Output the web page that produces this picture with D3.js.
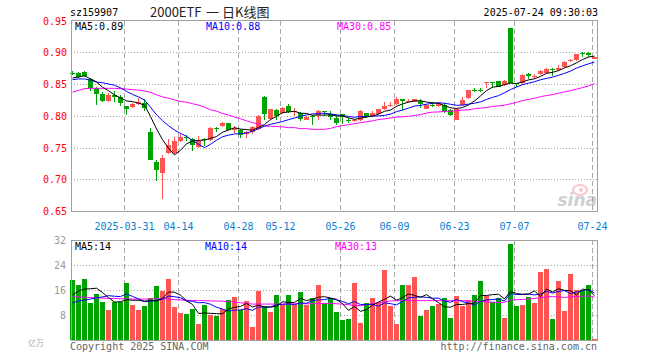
<!DOCTYPE html>
<html>
<head>
<meta charset="utf-8">
<script src="https://cdn.jsdelivr.net/npm/d3@7"></script>
<style>
body { margin: 0; background: #fff; }
svg { display: block; }
text { font-family: "DejaVu Sans Mono", monospace; font-size: 10px; }
text.title { font-family: "Noto Sans CJK SC", sans-serif; font-size: 13px; }
</style>
</head>
<body>
<svg id="chart" width="660" height="360"></svg>
<script>
var dates = [
    '2025-03-18', '2025-03-19', '2025-03-20', '2025-03-21', '2025-03-24', '2025-03-25', '2025-03-26', '2025-03-27', '2025-03-28', '2025-03-31',
    '2025-04-01', '2025-04-02', '2025-04-03', '2025-04-07', '2025-04-08', '2025-04-09', '2025-04-10', '2025-04-11', '2025-04-14', '2025-04-15',
    '2025-04-16', '2025-04-17', '2025-04-18', '2025-04-21', '2025-04-22', '2025-04-23', '2025-04-24', '2025-04-25', '2025-04-28', '2025-04-29',
    '2025-04-30', '2025-05-06', '2025-05-07', '2025-05-08', '2025-05-09', '2025-05-12', '2025-05-13', '2025-05-14', '2025-05-15', '2025-05-16',
    '2025-05-19', '2025-05-20', '2025-05-21', '2025-05-22', '2025-05-23', '2025-05-26', '2025-05-27', '2025-05-28', '2025-05-29', '2025-05-30',
    '2025-06-03', '2025-06-04', '2025-06-05', '2025-06-06', '2025-06-09', '2025-06-10', '2025-06-11', '2025-06-12', '2025-06-13', '2025-06-16',
    '2025-06-17', '2025-06-18', '2025-06-19', '2025-06-20', '2025-06-23', '2025-06-24', '2025-06-25', '2025-06-26', '2025-06-27', '2025-06-30',
    '2025-07-01', '2025-07-02', '2025-07-03', '2025-07-04', '2025-07-07', '2025-07-08', '2025-07-09', '2025-07-10', '2025-07-11', '2025-07-14',
    '2025-07-15', '2025-07-16', '2025-07-17', '2025-07-18', '2025-07-21', '2025-07-22', '2025-07-23', '2025-07-24'
]

var opens = [
    0.867, 0.867, 0.869, 0.858, 0.843, 0.835, 0.824, 0.832, 0.830, 0.815,
    0.813, 0.818, 0.820, 0.774, 0.727, 0.710, 0.741, 0.741, 0.760, 0.767,
    0.764, 0.751, 0.764, 0.762, 0.780, 0.784, 0.788, 0.778, 0.777, 0.772,
    0.774, 0.779, 0.829, 0.795, 0.809, 0.804, 0.815, 0.806, 0.805, 0.794,
    0.800, 0.801, 0.807, 0.802, 0.796, 0.802, 0.794, 0.791, 0.793, 0.804,
    0.800, 0.802, 0.810, 0.816, 0.818, 0.826, 0.822, 0.822, 0.824, 0.811,
    0.8175, 0.815, 0.817, 0.809, 0.794, 0.817, 0.828, 0.8405, 0.8405, 0.852,
    0.853, 0.854, 0.848, 0.938, 0.851, 0.851, 0.866, 0.8625, 0.865, 0.867,
    0.874, 0.872, 0.877, 0.887, 0.8875, 0.899, 0.899, 0.890
]
var highs = [
    0.870, 0.869, 0.870, 0.860, 0.846, 0.838, 0.836, 0.839, 0.833, 0.816,
    0.820, 0.828, 0.826, 0.780, 0.730, 0.738, 0.763, 0.767, 0.772, 0.770,
    0.765, 0.768, 0.765, 0.782, 0.782, 0.790, 0.789, 0.784, 0.779, 0.776,
    0.784, 0.801, 0.831, 0.811, 0.810, 0.813, 0.818, 0.812, 0.806, 0.799,
    0.801, 0.809, 0.807, 0.808, 0.801, 0.803, 0.797, 0.795, 0.809, 0.805,
    0.808, 0.811, 0.821, 0.821, 0.829, 0.827, 0.826, 0.827, 0.826, 0.819,
    0.822, 0.820, 0.820, 0.810, 0.812, 0.829, 0.841, 0.844, 0.844, 0.853,
    0.853, 0.855, 0.856, 0.938, 0.852, 0.865, 0.867, 0.866, 0.872, 0.875,
    0.875, 0.880, 0.886, 0.890, 0.898, 0.900, 0.9005, 0.893
]
var lows = [
    0.864, 0.860, 0.861, 0.839, 0.817, 0.822, 0.822, 0.821, 0.815, 0.801,
    0.812, 0.817, 0.808, 0.730, 0.697, 0.669, 0.740, 0.739, 0.759, 0.760,
    0.744, 0.750, 0.753, 0.761, 0.775, 0.783, 0.777, 0.773, 0.765, 0.765,
    0.771, 0.778, 0.794, 0.794, 0.794, 0.803, 0.805, 0.800, 0.792, 0.793,
    0.786, 0.794, 0.800, 0.794, 0.786, 0.787, 0.789, 0.790, 0.792, 0.797,
    0.799, 0.801, 0.809, 0.813, 0.817, 0.809, 0.821, 0.821, 0.812, 0.810,
    0.814, 0.814, 0.805, 0.799, 0.793, 0.816, 0.827, 0.837, 0.837, 0.844,
    0.843, 0.845, 0.847, 0.851, 0.846, 0.850, 0.858, 0.858, 0.864, 0.866,
    0.863, 0.871, 0.875, 0.885, 0.887, 0.892, 0.892, 0.889
]
var closes = [
    0.866, 0.861, 0.862, 0.843, 0.835, 0.824, 0.833, 0.829, 0.820, 0.811,
    0.818, 0.822, 0.812, 0.731, 0.714, 0.733, 0.754, 0.760, 0.767, 0.765,
    0.754, 0.760, 0.762, 0.781, 0.779, 0.788, 0.778, 0.780, 0.770, 0.775,
    0.783, 0.800, 0.802, 0.810, 0.800, 0.812, 0.806, 0.807, 0.795, 0.798,
    0.798, 0.808, 0.806, 0.798, 0.788, 0.798, 0.7935, 0.794, 0.807, 0.798,
    0.804, 0.810, 0.816, 0.817, 0.827, 0.823, 0.824, 0.826, 0.818, 0.817,
    0.817, 0.820, 0.808, 0.801, 0.811, 0.825, 0.840, 0.840, 0.840, 0.853,
    0.852, 0.846, 0.854, 0.852, 0.850, 0.864, 0.862, 0.863, 0.871, 0.874,
    0.872, 0.875, 0.885, 0.8875, 0.897, 0.898, 0.895, 0.892
]
var volumes = [
    19.2, 17.6, 19.5, 11.8, 14.8, 12.2, 9.6, 12.3, 12.3, 18.2,
    11.2, 9.6, 10.9, 13.3, 17.3, 15.8, 19.5, 10.6, 8.6, 8.3,
    9.9, 5.1, 11.3, 8.1, 7.7, 9.8, 12.8, 13.8, 9.6, 12.5,
    4.2, 15.7, 10.9, 9.1, 14.4, 11.1, 14.4, 11.1, 15.4, 11.1,
    13.3, 17.6, 11.9, 13.3, 9.0, 6.4, 6.7, 18.4, 5.4, 11.8,
    13.4, 11.9, 22.4, 10.9, 5.1, 17.6, 17.6, 20.2, 7.7, 9.6,
    10.9, 11.5, 13.4, 7.0, 14.1, 10.9, 12.8, 14.4, 18.9, 14.2,
    12.3, 13.4, 7.0, 30.7, 10.9, 11.2, 13.8, 11.9, 21.8, 22.7,
    6.7, 18.9, 9.3, 21.2, 16.0, 16.0, 17.6, 0.3
]

var ma5Lead = [0.8594, 0.861, 0.863, 0.858]
var ma10Lead = [0.8568, 0.858, 0.858, 0.856, 0.853, 0.852, 0.850, 0.848, 0.844]
var ma30 = [
    0.837, 0.840, 0.8427, 0.8432, 0.8432, 0.8432, 0.8432, 0.8432, 0.8427, 0.842,
    0.841, 0.8405, 0.839, 0.837, 0.833, 0.8297, 0.8276, 0.825, 0.8224, 0.8214,
    0.819, 0.8167, 0.8135, 0.8094, 0.8073, 0.8036, 0.801, 0.798, 0.7953, 0.792,
    0.789, 0.787, 0.7839, 0.7833, 0.783, 0.7825, 0.7813, 0.7813, 0.7797, 0.7797,
    0.7786, 0.7786, 0.7786, 0.780, 0.7828, 0.7844, 0.786, 0.7875, 0.789, 0.7906,
    0.792, 0.794, 0.795, 0.7964, 0.798, 0.7984, 0.799, 0.8005, 0.8016, 0.8043,
    0.8057, 0.806, 0.8068, 0.807, 0.808, 0.809, 0.8094, 0.811, 0.812, 0.813,
    0.8146, 0.8156, 0.8167, 0.8188, 0.821, 0.824, 0.8255, 0.8276, 0.830, 0.8318,
    0.8333, 0.8354, 0.8375, 0.8396, 0.842, 0.8443, 0.847, 0.8505
]
var volMa5Lead = [14.4, 15.7, 16.3, 16.4]
var volMa10Lead = [11.9, 12.5, 12.8, 13.1, 13.5, 13.8, 14.2, 14.0, 13.9]
var volMa30 = [
    13.9, 13.8, 13.7, 13.6, 13.5, 13.4, 13.3, 13.3, 13.2, 13.2,
    13.1, 13.1, 13.1, 13.1, 13.2, 13.2, 13.1, 12.9, 12.8, 12.7,
    12.7, 12.6, 12.6, 12.5, 12.5, 12.4, 12.3, 12.1, 11.9, 11.7,
    11.5, 11.5, 11.5, 11.5, 11.5, 11.5, 11.5, 11.6, 11.6, 11.6,
    11.6, 11.7, 11.7, 11.7, 11.6, 11.5, 11.3, 11.1, 11.0, 11.3,
    11.6, 11.9, 12.2, 12.5, 12.6, 12.6, 12.6, 12.6, 12.6, 12.6,
    12.6, 12.6, 12.6, 12.6, 12.6, 12.6, 12.5, 12.4, 12.3, 12.2,
    12.1, 12.0, 12.1, 12.8, 12.9, 13.0, 13.1, 13.3, 13.5, 13.8,
    13.9, 13.8, 13.6, 13.8, 13.9, 14.0, 14.1, 13.7
]

var priceTicks = [0.95, 0.90, 0.85, 0.80, 0.75, 0.70, 0.65]
var volumeTicks = [32, 24, 16, 8]
var labelDates = ['2025-03-31', '2025-04-14', '2025-04-28', '2025-05-12', '2025-05-26', '2025-06-09', '2025-06-23', '2025-07-07', '2025-07-24']

var layout = {
    left: 71, right: 597,
    price: { top: 20.5, bottom: 211 },
    volume: { top: 240, bottom: 340 },
    band: 6, body: 5
}
var colors = { up: '#ff5454', down: '#00a400', ma5: '#000000', ma10: '#0000ff', ma30: '#ff00ff', frame: '#a0a0a0', grid: '#a8a8a8' }

function rolling(values, n, lead) {
    return values.map(function (v, i) {
        return i < n - 1 ? lead[i] : d3.mean(values.slice(i - n + 1, i + 1))
    })
}
var ma5 = rolling(closes, 5, ma5Lead)
var ma10 = rolling(closes, 10, ma10Lead)
var volMa5 = rolling(volumes, 5, volMa5Lead)
var volMa10 = rolling(volumes, 10, volMa10Lead)

var svg = d3.select('#chart')

var x = d3.scaleBand()
    .domain(dates)
    .range([69.5, 69.5 + layout.band * dates.length])
var cx = function (d) { return x(d) + 3 }

var y = d3.scaleLinear().domain([0.65, 0.95]).range([layout.price.bottom, layout.price.top])
var yv = d3.scaleLinear().domain([0, 32]).range([layout.volume.bottom, layout.volume.top])

// header
svg.append('text').attr('x', 70).attr('y', 16).attr('fill', '#000').text('sz159907')
svg.append('g')
    .selectAll('text')
    .data([{ x: 150, t: '2000ETF' }, { x: 206, t: '一' }, { x: 222, t: '日K线图' }])
    .enter()
    .append('text')
    .attr('class', 'title')
    .attr('x', function (d) { return d.x }).attr('y', 17)
    .attr('fill', '#222').text(function (d) { return d.t })
svg.append('text').attr('x', 598).attr('y', 16).attr('text-anchor', 'end').attr('fill', '#000').text('2025-07-24 09:30:03')

function panelGrid(top, bottom, yScale, ticks) {
    var g = svg.append('g').attr('shape-rendering', 'crispEdges')
    g.selectAll('line.h')
        .data(ticks.filter(function (t) { return yScale(t) > top + 2 && yScale(t) < bottom - 2 }))
        .enter()
        .append('line')
        .attr('class', 'h')
        .attr('x1', layout.left).attr('x2', layout.right)
        .attr('y1', function (d) { return Math.round(yScale(d)) + 0.5 })
        .attr('y2', function (d) { return Math.round(yScale(d)) + 0.5 })
        .attr('stroke', colors.grid).attr('stroke-dasharray', '1,2')
    g.selectAll('line.v')
        .data(labelDates)
        .enter()
        .append('line')
        .attr('class', 'v')
        .attr('x1', function (d) { return Math.round(x(d) + 0.8) + 0.5 })
        .attr('x2', function (d) { return Math.round(x(d) + 0.8) + 0.5 })
        .attr('y1', top).attr('y2', bottom)
        .attr('stroke', colors.grid).attr('stroke-dasharray', '5,3')
    return g
}

panelGrid(layout.price.top, layout.price.bottom, y, priceTicks)
panelGrid(layout.volume.top, layout.volume.bottom, yv, volumeTicks)

// sina watermark
var mark = svg.append('g').attr('opacity', 0.45)
mark.append('ellipse').attr('cx', 580).attr('cy', 190).attr('rx', 7).attr('ry', 5).attr('fill', 'none').attr('stroke', '#f08080').attr('stroke-width', 2)
mark.append('circle').attr('cx', 581).attr('cy', 190).attr('r', 2).attr('fill', '#f08080')
mark.append('text').attr('x', 597).attr('y', 206).attr('text-anchor', 'end')
    .style('font-family', '"DejaVu Sans", sans-serif').style('font-size', '17px').style('font-style', 'italic').style('font-weight', 'bold')
    .attr('fill', '#999').text('sina')

// price labels
svg.append('g').selectAll('text')
    .data(priceTicks)
    .enter()
    .append('text')
    .attr('x', 67).attr('y', function (d) { return y(d) + 4 })
    .attr('text-anchor', 'end').attr('fill', '#ff0000')
    .text(function (d) { return d.toFixed(2) })

// x labels
svg.append('g').selectAll('text')
    .data(labelDates)
    .enter()
    .append('text')
    .attr('x', function (d) { return x(d) + 1 })
    .attr('y', 230)
    .attr('text-anchor', 'middle').attr('fill', '#0a7fcf')
    .text(function (d, i) { return i === 0 ? d : d.slice(5) })

// volume labels
svg.append('g').selectAll('text')
    .data(volumeTicks)
    .enter()
    .append('text')
    .attr('x', 66).attr('y', function (d) { return yv(d) + 4 })
    .attr('text-anchor', 'end').attr('fill', '#999')
    .text(function (d) { return d })
svg.append('text').attr('x', 28).attr('y', 346)
    .style('font-family', '"Noto Sans CJK SC", sans-serif').style('font-size', '8px')
    .attr('fill', '#aaa').text('亿万')

// candles
var candles = svg.append('g').selectAll('g')
    .data(dates)
    .enter()
    .append('g')
    .attr('shape-rendering', 'crispEdges')

var isUp = function (i) { return closes[i] >= opens[i] }

candles.append('line')
    .attr('x1', function (d) { return Math.floor(cx(d)) + 0.5 })
    .attr('x2', function (d) { return Math.floor(cx(d)) + 0.5 })
    .attr('y1', function (d, i) { return y(highs[i]) })
    .attr('y2', function (d, i) { return y(lows[i]) })
    .attr('stroke', function (d, i) { return isUp(i) ? colors.up : colors.down })

candles.append('rect')
    .attr('x', function (d) { return Math.floor(cx(d)) - 2 })
    .attr('width', layout.body)
    .attr('y', function (d, i) { return y(Math.max(opens[i], closes[i])) })
    .attr('height', function (d, i) { return Math.max(1, Math.abs(y(opens[i]) - y(closes[i]))) })
    .attr('fill', function (d, i) { return isUp(i) ? colors.up : colors.down })

// volume bars
svg.append('g').attr('shape-rendering', 'crispEdges')
    .selectAll('rect')
    .data(dates)
    .enter()
    .append('rect')
    .attr('x', function (d) { return Math.floor(cx(d)) - 2 })
    .attr('width', layout.body)
    .attr('y', function (d, i) { return yv(volumes[i]) })
    .attr('height', function (d, i) { return layout.volume.bottom - yv(volumes[i]) })
    .attr('fill', function (d, i) { return isUp(i) ? colors.up : colors.down })

function maLine(values, yScale, color) {
    var line = d3.line()
        .x(function (d, i) { return cx(dates[i]) })
        .y(function (d) { return yScale(d) })
    svg.append('path')
        .datum(values)
        .attr('d', line)
        .attr('fill', 'none')
        .attr('stroke', color)
        .attr('stroke-width', 1)
}

maLine(ma30, y, colors.ma30)
maLine(ma10, y, colors.ma10)
maLine(ma5, y, colors.ma5)
maLine(volMa30, yv, colors.ma30)
maLine(volMa10, yv, colors.ma10)
maLine(volMa5, yv, colors.ma5)

// frames
svg.append('rect')
    .attr('x', layout.left + 0.5).attr('y', 20.5)
    .attr('width', layout.right - layout.left).attr('height', layout.price.bottom - 20.5)
    .attr('fill', 'none').attr('stroke', colors.frame).attr('shape-rendering', 'crispEdges')
svg.append('rect')
    .attr('x', layout.left + 0.5).attr('y', layout.volume.top + 0.5)
    .attr('width', layout.right - layout.left).attr('height', layout.volume.bottom - layout.volume.top)
    .attr('fill', 'none').attr('stroke', colors.frame).attr('shape-rendering', 'crispEdges')

// legends
function legend(yPos, items) {
    svg.append('g').selectAll('text')
        .data(items)
        .enter()
        .append('text')
        .attr('x', function (d) { return d.x })
        .attr('y', yPos)
        .attr('fill', function (d) { return d.color })
        .text(function (d) { return d.label })
}
legend(30, [
    { x: 75, label: 'MA5:0.89', color: colors.ma5 },
    { x: 206, label: 'MA10:0.88', color: colors.ma10 },
    { x: 337, label: 'MA30:0.85', color: colors.ma30 }
])
legend(250, [
    { x: 75, label: 'MA5:14', color: colors.ma5 },
    { x: 205, label: 'MA10:14', color: colors.ma10 },
    { x: 335, label: 'MA30:13', color: colors.ma30 }
])

// footer
svg.append('text').attr('x', 70).attr('y', 350).attr('fill', '#666').text('Copyright 2025 SINA.COM')
svg.append('text').attr('x', 597).attr('y', 350).attr('text-anchor', 'end').attr('fill', '#666').text('http://finance.sina.com.cn')
</script>
</body>
</html>
